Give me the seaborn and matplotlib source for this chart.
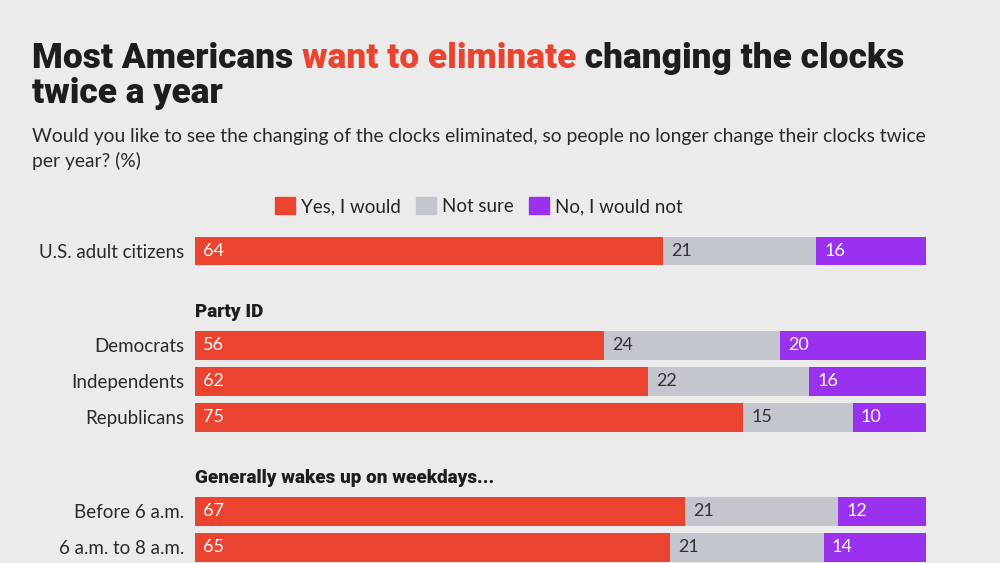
import pandas as pd
import seaborn as sns
import matplotlib.pyplot as plt
from matplotlib.patches import Patch

# survey results (%)
groups = ["U.S. adult citizens", "Democrats", "Independents", "Republicans",
          "Before 6 a.m.", "6 a.m. to 8 a.m."]
yes = [64, 56, 62, 75, 67, 65]
not_sure = [21, 24, 22, 15, 21, 21]
no = [16, 20, 16, 10, 12, 14]

section_titles = ["Party ID", "Generally wakes up on weekdays..."]

# layout: row centres in bar-pitch units (pitch = 36 px)
row_pos = [0, 2.625, 3.625, 4.625, 7.236, 8.236]
section_pos = [1.694, 6.306]

RED = "#ea4431"
GREY = "#c3c6cd"
PURPLE = "#9a31ee"
BG = "#ebebeb"
DARK = "#1d1d1d"

sns.set_theme(style="white")
plt.rcParams["font.family"] = ["Lato", "DejaVu Sans"]
HEAVY = ["Roboto", "Lato", "DejaVu Sans"]

df = pd.DataFrame({"group": groups, "pos": row_pos, "yes": yes,
                   "not_sure": not_sure, "no": no})
df["cum_grey"] = df["yes"] + df["not_sure"]
df["cum_all"] = 100

fig = plt.figure(figsize=(10, 5.63), dpi=100, facecolor=BG)
ax = fig.add_axes([0.195, 0.0, 0.731, 338 / 563])
ax.set_facecolor(BG)

# stacked bars drawn as overlapping cumulative totals
for col, colr in [("cum_all", PURPLE), ("cum_grey", GREY), ("yes", RED)]:
    sns.barplot(data=df, x=col, y="pos", orient="y", native_scale=True,
                color=colr, width=0.8, saturation=1, ax=ax, linewidth=0)

ax.set_xlim(0, 100)
ax.set_ylim(8.667, -0.722)
ax.set_xlabel("")
ax.set_ylabel("")
ax.set_xticks([])
ax.set_yticks(row_pos)
ax.set_yticklabels(groups, fontsize=13.5, color="#2a2a2a")
ax.tick_params(axis="y", length=0, pad=8)
for s in ax.spines.values():
    s.set_visible(False)

pad = 1.1
for i, r in df.iterrows():
    ax.text(pad, r["pos"], str(r["yes"]), color="white", fontsize=13,
            va="center", ha="left")
    ax.text(r["yes"] + pad, r["pos"], str(r["not_sure"]), color="#333333",
            fontsize=13, va="center", ha="left")
    ax.text(r["cum_grey"] + pad, r["pos"], str(r["no"]), color="white",
            fontsize=13, va="center", ha="left")

for t, p in zip(section_titles, section_pos):
    ax.text(0, p, t, fontsize=13.6, fontweight="black", family=HEAVY,
            color=DARK, va="center", ha="left")

# title with highlighted part
fig.canvas.draw()
renderer = fig.canvas.get_renderer()
parts = [("Most Americans ", DARK), ("want to eliminate", RED),
         (" changing the clocks", DARK)]
x = 32 / 1000
for txt, c in parts:
    t = fig.text(x, 1 - 68 / 563, txt, fontsize=25.4, fontweight="black",
                 family=HEAVY, color=c, ha="left", va="baseline")
    bb = t.get_window_extent(renderer)
    x += bb.width / fig.bbox.width
fig.text(32 / 1000, 1 - 103 / 563, "twice a year", fontsize=25.4,
         fontweight="black", family=HEAVY, color=DARK, ha="left",
         va="baseline")

fig.text(32 / 1000, 1 - 142 / 563,
         "Would you like to see the changing of the clocks eliminated, so people no longer change their clocks twice",
         fontsize=13.9, color="#2a2a2a", ha="left", va="baseline")
fig.text(32 / 1000, 1 - 167 / 563, "per year? (%)",
         fontsize=13.9, color="#2a2a2a", ha="left", va="baseline")

handles = [Patch(color=RED, label="Yes, I would"),
           Patch(color=GREY, label="Not sure"),
           Patch(color=PURPLE, label="No, I would not")]
fig.legend(handles=handles, loc="center", ncol=3,
           bbox_to_anchor=(0.479, 1 - 206 / 563), frameon=False,
           fontsize=13.5, handlelength=1.05, handleheight=1.05,
           handletextpad=0.35, columnspacing=0.8)

fig.savefig("out.png", dpi=100, facecolor=BG)
